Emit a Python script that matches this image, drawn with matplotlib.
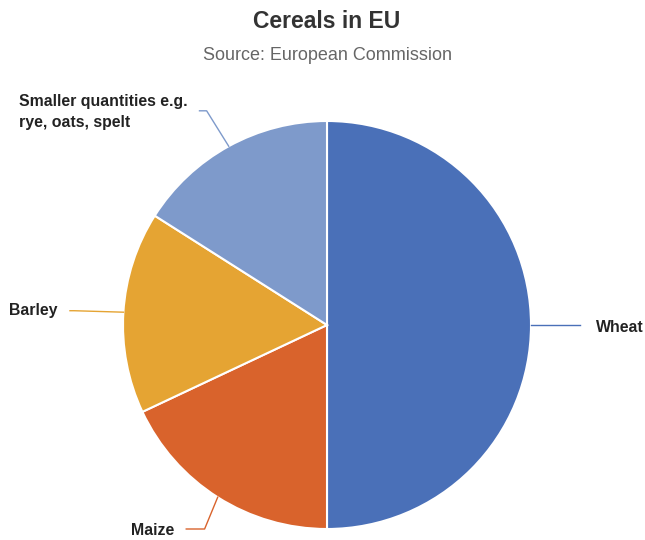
import numpy as np
import matplotlib.pyplot as plt

plt.rcParams['font.family'] = ['Liberation Sans', 'DejaVu Sans']

labels = ['Wheat', 'Maize', 'Barley', 'Smaller quantities e.g.\nrye, oats, spelt']
shares = [50, 18, 16, 16]
colors = ['#4A70B8', '#D9632C', '#E5A433', '#7E9ACB']

# label text anchor (data units, radius = 1) and elbow point for each leader line
label_pos = [(1.32, -0.01), (-0.75, -1.005), (-1.32, 0.07), (-0.685, 1.045)]
elbow_pos = [(1.24, 0.0), (-0.60, -1.0), (-1.24, 0.07), (-0.59, 1.05)]
ha = ['left', 'right', 'right', 'right']

fig = plt.figure(figsize=(6.45, 5.4), dpi=100)
ax = fig.add_axes([123 / 645, 11 / 540, 408 / 645, 408 / 540])

wedges, _ = ax.pie(shares, colors=colors, startangle=90, counterclock=False,
                   radius=1, wedgeprops=dict(edgecolor='white', linewidth=1.5))
ax.set_xlim(-1, 1)
ax.set_ylim(-1, 1)
ax.set_aspect('equal')
ax.axis('off')

for w, lab, lp, ep, h, c in zip(wedges, labels, label_pos, elbow_pos, ha, colors):
    ang = np.deg2rad((w.theta1 + w.theta2) / 2)
    x0, y0 = np.cos(ang), np.sin(ang)
    if h == 'left':
        xs, ys = [x0, ep[0]], [y0, ep[1]]
    else:
        xs, ys = [x0, ep[0], lp[0] + 0.06], [y0, ep[1], ep[1]]
    ax.plot(xs, ys, color=c, lw=1, clip_on=False)
    ax.text(lp[0], lp[1], lab, ha=h, va='center', multialignment='left',
            fontsize=11.4, fontweight='bold', color='#222222', clip_on=False,
            linespacing=1.55)

fig.text(0.507, 0.96, 'Cereals in EU', ha='center', va='center',
         fontsize=16.5, fontweight='bold', color='#333333')
fig.text(0.507, 0.898, 'Source: European Commission', ha='center', va='center',
         fontsize=13, color='#666666')

fig.savefig('out.png', dpi=100, facecolor='white')
